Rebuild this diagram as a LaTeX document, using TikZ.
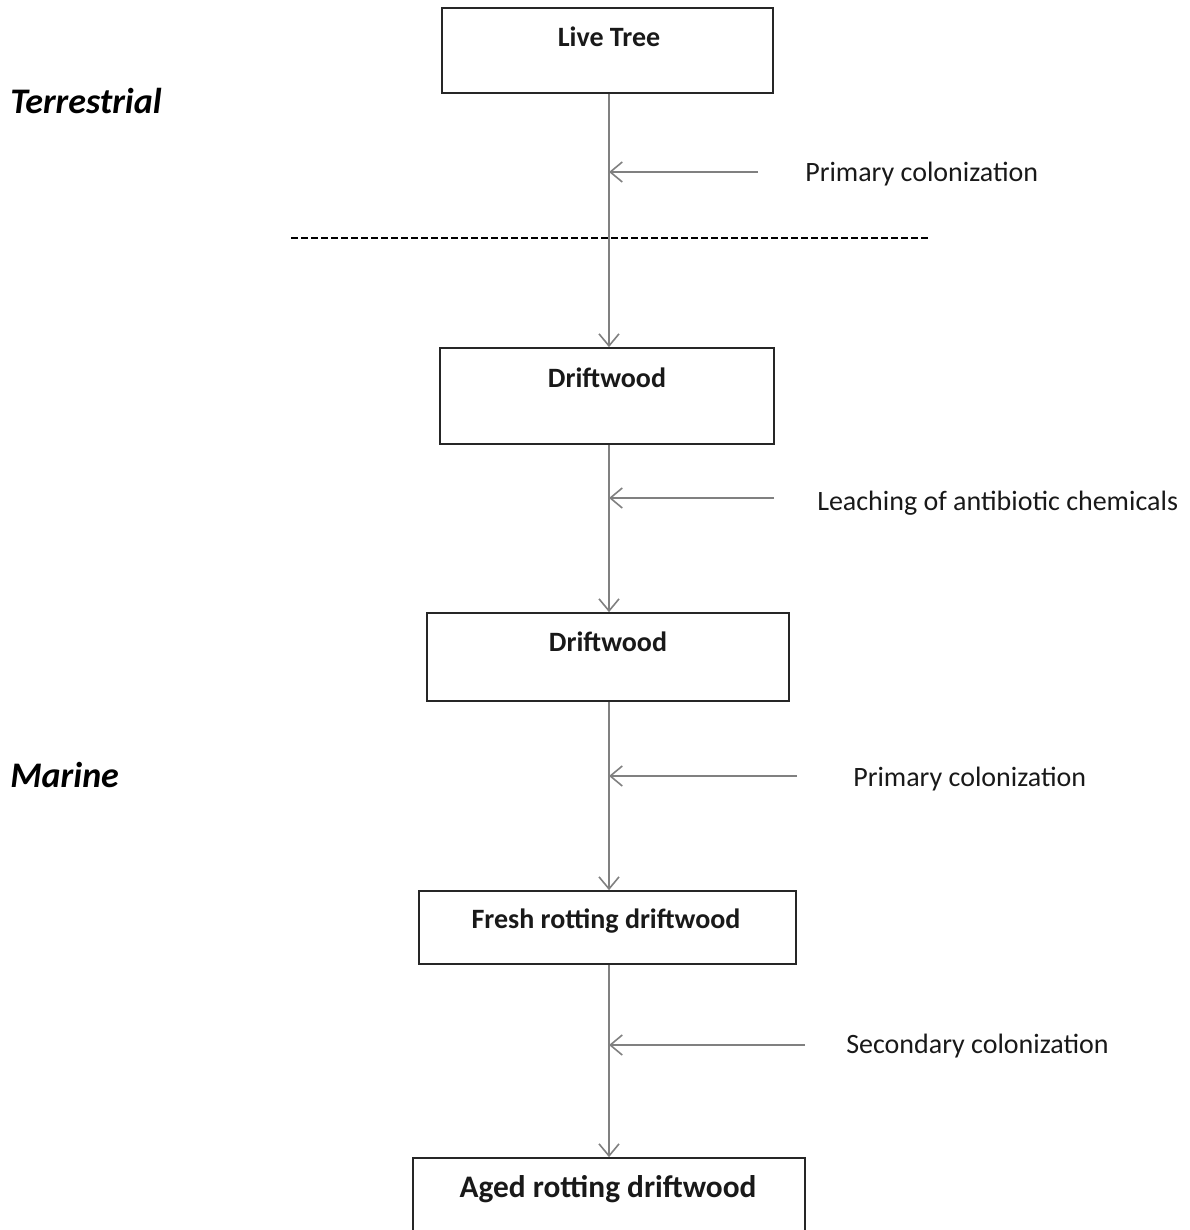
\documentclass[tikz,border=0pt]{standalone}
\usepackage{fontspec}
\setmainfont{Carlito}
\usetikzlibrary{arrows.meta}
\begin{document}
\begin{tikzpicture}[x=0.75pt,y=-0.75pt,
  box/.style={draw=black!85,line width=1.3pt,inner sep=0pt},
  boxtext/.style={font=\fontsize{21}{24}\selectfont\bfseries,inner sep=0pt,text=black!90},
  flow/.style={draw=black!50,line width=1.4pt,-{Straight Barb[length=9pt,width=15pt,line width=1.2pt]}},
  side/.style={draw=black!50,line width=1.4pt,-{Straight Barb[length=9pt,width=15pt,line width=1.2pt]}},
  lbl/.style={font=\fontsize{21}{24}\selectfont,anchor=west,inner sep=0pt,text=black!90},
  zone/.style={font=\fontsize{27}{30}\selectfont\bfseries\itshape,anchor=west,inner sep=0pt}]
\useasboundingbox (0,0) rectangle (1189,1230);
% boxes
\node[box,minimum width=331*0.75pt,minimum height=85*0.75pt] (b1) at (607.5,50.5) {};
\node[box,minimum width=334*0.75pt,minimum height=96*0.75pt] (b2) at (607,396) {};
\node[box,minimum width=362*0.75pt,minimum height=88*0.75pt] (b3) at (608,657) {};
\node[box,minimum width=377*0.75pt,minimum height=73*0.75pt] (b4) at (607.5,927.5) {};
\node[box,minimum width=392*0.75pt,minimum height=100*0.75pt] (b5) at (609,1208) {};
% box texts
\node[boxtext] (t1) at (609,37) {Live Tree};
\node[boxtext] (t2) at (607,378) {Driftwood};
\node[boxtext] (t3) at (608,642) {Driftwood};
\node[boxtext] (t4) at (606,921) {Fresh rotting driftwood};
\node[boxtext,font=\fontsize{23.5}{26}\selectfont\bfseries] (t5) at (608,1189) {Aged rotting driftwood};
% zone labels
\node[zone] (terr) at (10,101) {Terrestrial};
\node[zone] (mar) at (10,775) {Marine};
% dashed boundary
\coordinate (dl) at (291,238);
\coordinate (dr) at (930,238);
\draw[line width=1.1pt,dash pattern=on 5pt off 2.5pt] (dl) -- (dr);
% vertical flow
\draw[flow] (b1.south -| 609,0) -- (b2.north -| 609,0);
\draw[flow] (b2.south -| 609,0) -- (b3.north -| 609,0);
\draw[flow] (b3.south -| 609,0) -- (b4.north -| 609,0);
\draw[flow] (b4.south -| 609,0) -- (b5.north -| 609,0);
% side inputs
\coordinate (s1a) at (758,172); \coordinate (s1b) at (609,172);
\coordinate (s2a) at (774,498); \coordinate (s2b) at (609,498);
\coordinate (s3a) at (797,776); \coordinate (s3b) at (609,776);
\coordinate (s4a) at (805,1045); \coordinate (s4b) at (609,1045);
\draw[side] (s1a) -- (s1b);
\draw[side] (s2a) -- (s2b);
\draw[side] (s3a) -- (s3b);
\draw[side] (s4a) -- (s4b);
% labels
\node[lbl] (l1) at (805,174) {Primary colonization};
\node[lbl] (l2) at (817,503) {Leaching of antibiotic chemicals};
\node[lbl] (l3) at (853,779) {Primary colonization};
\node[lbl] (l4) at (846,1046) {Secondary colonization};
\end{tikzpicture}
\end{document}
